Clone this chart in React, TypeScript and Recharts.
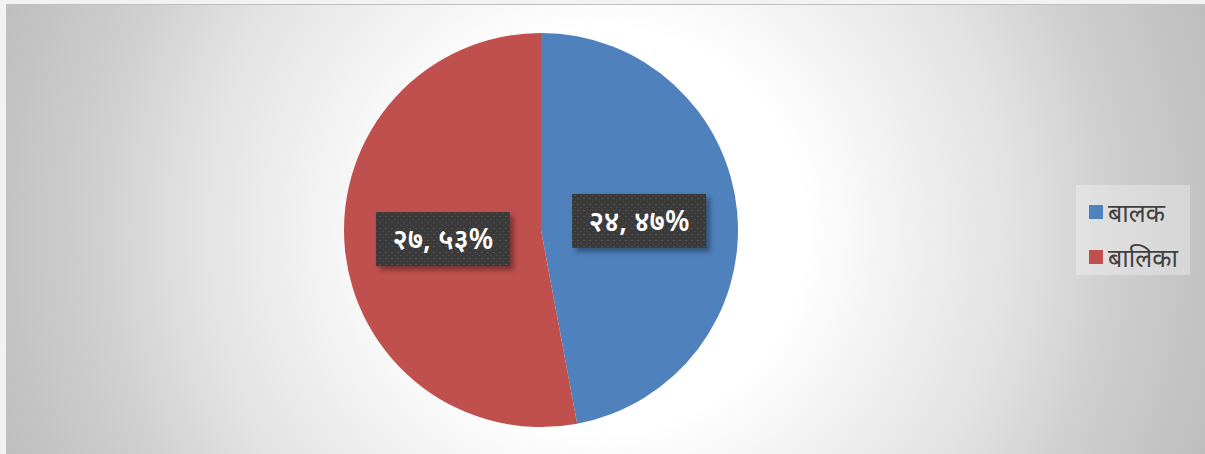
import React from 'react';
import { PieChart, Pie, Cell, Legend } from 'recharts';

const categories = ['बालक', 'बालिका'];
const counts = [24, 27];
const countLabels = ['२४', '२७'];
const percentLabels = ['४७%', '५३%'];
const colors = ['#4f81bd', '#c0504d'];

const data = categories.map((name, i) => ({
  name,
  value: counts[i],
  label: `${countLabels[i]}, ${percentLabels[i]}`,
}));

const renderLabel = (props: any) => {
  const { cx, cy, midAngle, outerRadius, index } = props;
  const RAD = Math.PI / 180;
  const r = outerRadius * 0.5;
  const x = cx + r * Math.cos(-midAngle * RAD);
  const y = cy + r * Math.sin(-midAngle * RAD);
  const w = 134;
  const h = 54;
  return (
    <g>
      <rect x={x - w / 2} y={y - h / 2} width={w} height={h} fill="#000" opacity={0.35} filter="url(#lblShadow)" transform="translate(4,4)" />
      <rect x={x - w / 2} y={y - h / 2} width={w} height={h} fill="url(#dots)" />
      <text
        x={x}
        y={y + 2}
        fill="#ffffff"
        fontSize={28}
        fontWeight={600}
        textAnchor="middle"
        dominantBaseline="middle"
        fontFamily="'Noto Sans', 'DejaVu Sans', sans-serif"
      >
        {data[index].label}
      </text>
    </g>
  );
};

const renderLegend = () => (
  <div
    style={{
      background: 'rgba(255,255,255,0.3)',
      width: 114,
      height: 90,
      boxSizing: 'border-box',
      padding: '9px 0 0 13px',
      fontFamily: "'Noto Sans', 'DejaVu Sans', sans-serif",
      fontSize: 25,
      color: '#404040',
      whiteSpace: 'nowrap',
    }}
  >
    {categories.map((name, i) => (
      <div key={name} style={{ display: 'flex', alignItems: 'center', height: 36, marginBottom: 9 }}>
        <span style={{ width: 14, height: 14, background: colors[i], display: 'inline-block', marginRight: 5, flexShrink: 0 }} />
        <span>{name}</span>
      </div>
    ))}
  </div>
);

export default function App() {
  return (
    <div style={{ position: 'fixed', left: 0, top: 0, width: 1205, height: 454, background: '#f2f2f2' }}>
      <div
        style={{
          position: 'absolute',
          left: 6,
          top: 4,
          width: 1199,
          height: 450,
          borderTop: '1px solid #bfbfbf',
          boxSizing: 'border-box',
          background:
            'radial-gradient(circle at 598px 225px, #ffffff 0px, #ffffff 200px, #f3f3f3 285px, #e2e2e2 410px, #cfcfcf 510px, #c3c3c3 600px, #bdbdbd 650px)',
        }}
      >
        <PieChart width={1199} height={449} margin={{ top: 0, right: 0, bottom: 0, left: 0 }}>
          <defs>
            <pattern id="dots" width="6" height="6" patternUnits="userSpaceOnUse">
              <rect width="6" height="6" fill="#3a3a3a" />
              <rect x="1" y="1" width="2" height="1" fill="#555555" />
              <rect x="4" y="4" width="2" height="1" fill="#4a4a4a" />
            </pattern>
            <filter id="lblShadow" x="-20%" y="-30%" width="140%" height="160%">
              <feGaussianBlur stdDeviation="2.5" />
            </filter>
          </defs>
          <Pie
            data={data}
            dataKey="value"
            nameKey="name"
            cx={535}
            cy={225}
            outerRadius={197}
            startAngle={90}
            endAngle={-270}
            stroke="none"
            label={renderLabel}
            labelLine={false}
            isAnimationActive={false}
          >
            {data.map((entry, i) => (
              <Cell key={entry.name} fill={colors[i]} />
            ))}
          </Pie>
          <Legend
            layout="vertical"
            align="right"
            verticalAlign="top"
            width={114}
            height={90}
            content={renderLegend}
            wrapperStyle={{ left: 1070, top: 180, width: 114, height: 90 }}
          />
        </PieChart>
      </div>
    </div>
  );
}
